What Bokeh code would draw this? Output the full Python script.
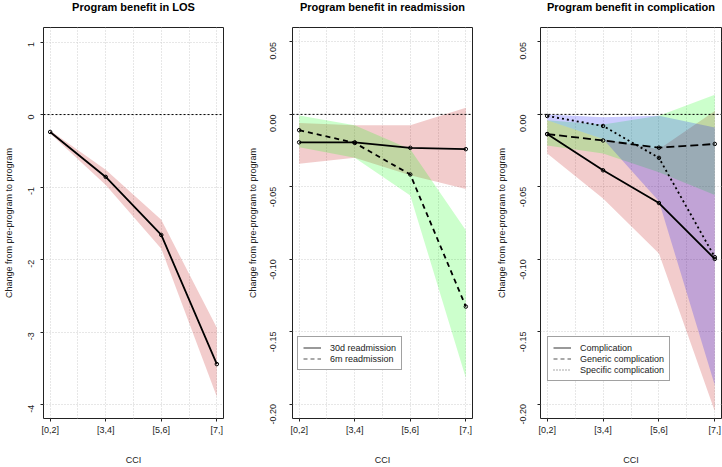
import math
from bokeh.plotting import figure
from bokeh.models import FixedTicker, Span, Legend, LegendItem, Range1d, Title
from bokeh.layouts import row
from bokeh.embed import file_html
from bokeh.resources import INLINE

# ---- data ----
cci_pos = [1, 2, 3, 4]
cci_labels = ["[0,2]", "[3,4]", "[5,6]", "[7,]"]

los_est = [-0.24, -0.86, -1.66, -3.44]
los_lo = [-0.26, -0.97, -1.85, -3.89]
los_hi = [-0.22, -0.76, -1.45, -2.94]

r30_est = [-0.0193, -0.0193, -0.0231, -0.0240]
r30_lo = [-0.034, -0.030, -0.042, -0.0515]
r30_hi = [-0.006, -0.0075, -0.0075, 0.0045]

r6m_est = [-0.0109, -0.0197, -0.0415, -0.1327]
r6m_lo = [-0.0227, -0.030, -0.056, -0.182]
r6m_hi = [-0.0007, -0.0075, -0.024, -0.080]

comp_est = [-0.0136, -0.0386, -0.0612, -0.0998]
comp_lo = [-0.027, -0.058, -0.096, -0.205]
comp_hi = [-0.004, -0.017, -0.024, 0.0023]

gen_est = [-0.0136, -0.018, -0.023, -0.0204]
gen_lo = [-0.0215, -0.027, -0.040, -0.0556]
gen_hi = [-0.004, -0.007, -0.001, 0.0136]

spec_est = [-0.0011, -0.008, -0.030, -0.0986]
spec_lo = [-0.004, -0.017, -0.060, -0.187]
spec_hi = [0.0, -0.002, -0.001, -0.009]

los_ticks = [-4, -3, -2, -1, 0, 1]
los_tick_labels = ["-4", "-3", "-2", "-1", "0", "1"]
prop_ticks = [-0.20, -0.15, -0.10, -0.05, 0.00, 0.05]
prop_tick_labels = ["-0.20", "-0.15", "-0.10", "-0.05", "0.00", "0.05"]
xgrid_ticks = [1, 1.5, 2, 2.5, 3, 3.5, 4]

titles = ["Program benefit in LOS", "Program benefit in readmission",
          "Program benefit in complication"]

FONT = "Liberation Sans"
RED = "#be0000"
GREEN = "#00ff00"
BLUE = "#0000ff"
NAN = float("nan")


def make_fig(width, left, right, title, yrange, yticks, ylabels,
             tick_standoff, lab_standoff):
    p = figure(width=width, height=467, output_backend="svg", toolbar_location=None,
               title=None,
               x_range=Range1d(0.88, 4.12), y_range=Range1d(*yrange),
               min_border_left=left, min_border_right=right,
               min_border_top=27, min_border_bottom=43)
    # inner spacer, then the real title on the outside (top)
    p.add_layout(Title(text=" ", text_font_size="1px", standoff=10), "above")
    p.add_layout(Title(text=title, text_font=FONT, text_font_size="11px",
                       text_font_style="bold", align="center",
                       vertical_align="top", standoff=0, text_color="black"), "above")
    p.outline_line_color = "#222222"
    p.outline_line_width = 1
    p.background_fill_color = "white"
    p.border_fill_color = "white"

    p.xaxis.ticker = FixedTicker(ticks=cci_pos)
    p.xaxis.major_label_overrides = {k: v for k, v in zip(cci_pos, cci_labels)}
    p.yaxis.ticker = FixedTicker(ticks=yticks)
    p.yaxis.major_label_overrides = {k: v for k, v in zip(yticks, ylabels)}
    p.yaxis.major_label_orientation = math.pi / 2
    p.xaxis.axis_label = "CCI"
    p.yaxis.axis_label = "Change from pre-program to program"
    for ax in (p.xaxis, p.yaxis):
        ax.axis_line_color = None
        ax.major_tick_out = 3
        ax.major_tick_in = 0
        ax.minor_tick_out = 0
        ax.minor_tick_in = 0
        ax.major_tick_line_color = "#222222"
        ax.major_label_text_font = FONT
        ax.major_label_text_font_size = "9px"
        ax.major_label_text_color = "#222222"
        ax.axis_label_text_font = FONT
        ax.axis_label_text_font_size = "9px"
        ax.axis_label_text_font_style = "normal"
        ax.axis_label_text_color = "#222222"
    p.xaxis.major_label_standoff = 3
    p.xaxis.axis_label_standoff = 17
    p.yaxis.major_label_standoff = tick_standoff
    p.yaxis.axis_label_standoff = lab_standoff

    p.xgrid.ticker = FixedTicker(ticks=xgrid_ticks)
    p.ygrid.ticker = FixedTicker(ticks=yticks)
    for g in (p.xgrid, p.ygrid):
        g.grid_line_color = "#cfcfcf"
        g.grid_line_dash = "1 2"
        g.grid_line_width = 1

    p.add_layout(Span(location=0, dimension="width", line_color="black",
                      line_dash="2 2", line_width=1))
    return p


def band(p, lo, hi, color):
    p.varea(x=cci_pos, y1=lo, y2=hi, fill_color=color, fill_alpha=0.2)


def line(p, est, dash):
    p.line(cci_pos, est, line_color="black", line_width=1.8, line_dash=dash)
    p.scatter(cci_pos, est, marker="circle", size=3.5, fill_color=None,
              line_color="black", line_width=1)


def legend_for(p, entries, x, y):
    items = []
    for label, dash in entries:
        r = p.line([NAN], [NAN], line_color="#555555", line_width=1.2, line_dash=dash)
        items.append(LegendItem(label=label, renderers=[r]))
    lg = Legend(items=items, location=(x, y), orientation="vertical",
                label_text_font=FONT, label_text_font_size="9px",
                label_text_color="#222222",
                label_height=11, glyph_height=11, glyph_width=18,
                label_standoff=9, padding=5, spacing=0, margin=0,
                border_line_color="#444444", border_line_width=1,
                background_fill_color="white", background_fill_alpha=1)
    p.add_layout(lg, "center")


# Panel 1: LOS
p1 = make_fig(240, 43, 17, titles[0], (-4.19, 1.2),
              los_ticks, los_tick_labels, 9, 9)
band(p1, los_lo, los_hi, RED)
line(p1, los_est, "solid")

# Panel 2: readmission
p2 = make_fig(240, 52, 8, titles[1], (-0.21, 0.06),
              prop_ticks, prop_tick_labels, 16, 7)
band(p2, r30_lo, r30_hi, RED)
band(p2, r6m_lo, r6m_hi, GREEN)
line(p2, r30_est, "solid")
line(p2, r6m_est, "5 4")
legend_for(p2, [("30d readmission", "solid"), ("6m readmission", "4 3")], 5, 48)

# Panel 3: complication
p3 = make_fig(242, 60, 1, titles[2], (-0.21, 0.06),
              prop_ticks, prop_tick_labels, 14, 8)
band(p3, comp_lo, comp_hi, RED)
band(p3, gen_lo, gen_hi, GREEN)
band(p3, spec_lo, spec_hi, BLUE)
line(p3, comp_est, "solid")
line(p3, gen_est, "8 4")
line(p3, spec_est, "2 3")
legend_for(p3, [("Complication", "solid"), ("Generic complication", "4 3"),
                ("Specific complication", "1 2")], 7, 37)

layout = row(p1, p2, p3)
open("out.html", "w").write(file_html(layout, INLINE))
